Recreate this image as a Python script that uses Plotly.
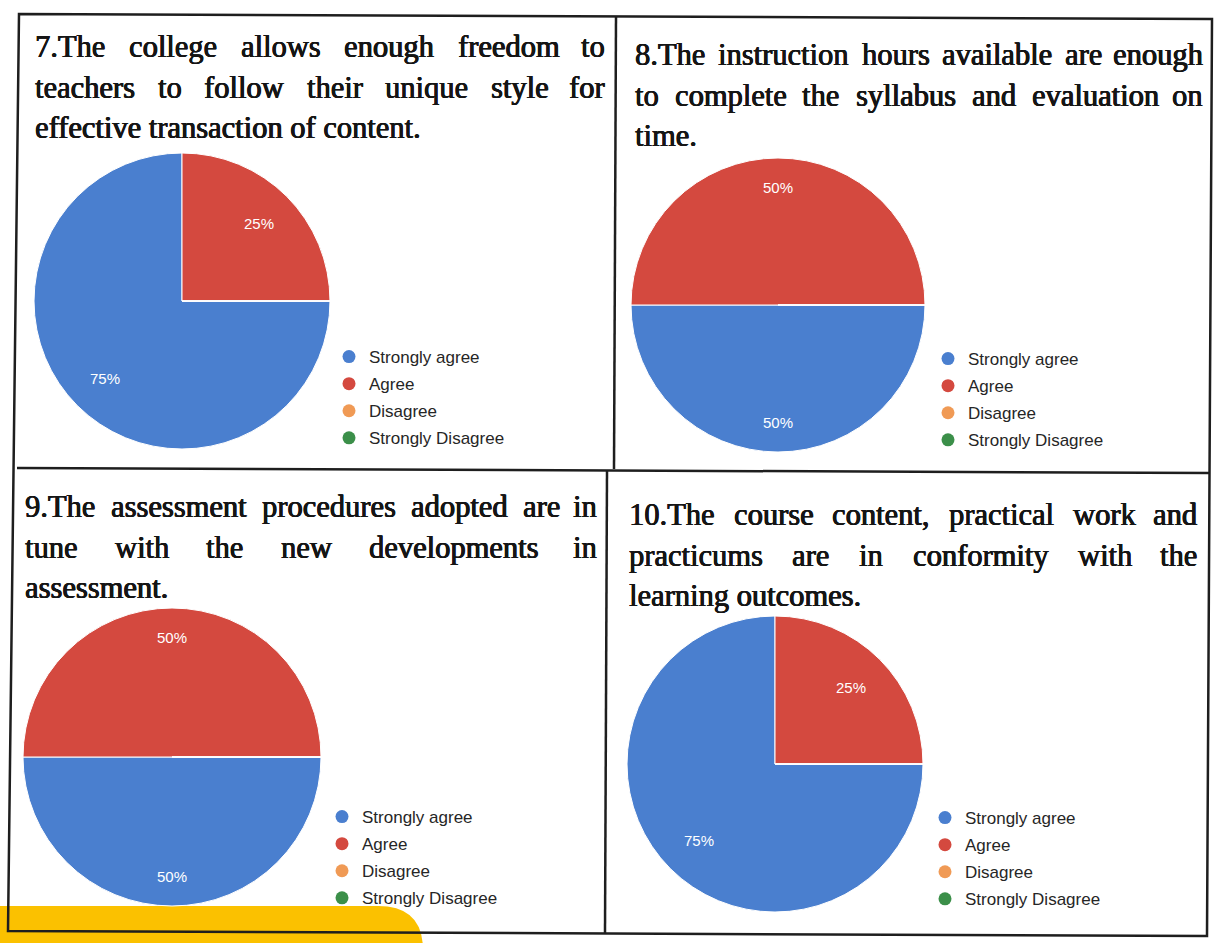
import math
import plotly.graph_objects as go

W, H = 1216, 943

categories = ["Strongly agree", "Agree", "Disagree", "Strongly Disagree"]
colors = ["#4a7fcf", "#d4493f", "#f09a55", "#3b8f49"]

q7_values = [75, 25, 0, 0]
q8_values = [50, 50, 0, 0]
q9_values = [50, 50, 0, 0]
q10_values = [75, 25, 0, 0]

q7_title = ["7.The college allows enough freedom to",
            "teachers to follow their unique style for",
            "effective transaction of content."]
q8_title = ["8.The instruction hours available are enough",
            "to complete the syllabus and evaluation on",
            "time."]
q9_title = ["9.The assessment procedures adopted are in",
            "tune with the new developments in",
            "assessment."]
q10_title = ["10.The course content, practical work and",
             "practicums are in conformity with the",
             "learning outcomes."]

# Times / Liberation Serif advance widths (per 1000 em) for justification
TIMES = {' ': 250, '.': 250, ',': 250, 'T': 611}
TIMES.update({d: 500 for d in '0123456789'})
TIMES.update(dict(zip('abcdefghijklmnopqrstuvwxyz',
                      [444, 500, 444, 500, 444, 333, 500, 500, 278, 278, 500, 278, 778,
                       500, 500, 500, 500, 333, 389, 278, 500, 500, 722, 500, 500, 444])))

TITLE_SIZE = 30.5
SERIF = "Liberation Serif, Times New Roman, serif"
SANS = "Arial, Liberation Sans, sans-serif"
INK = "#151515"


def text_width(s, size):
    return sum(TIMES.get(c, 500) for c in s) / 1000.0 * size


panels = [
    dict(values=q7_values, title=q7_title, tx=(34, 606), ty=47, pie=(182, 301, 148),
         label_r=0.74, legend="legend", lg=(329, 339)),
    dict(values=q8_values, title=q8_title, tx=(634, 1204), ty=55, pie=(778, 305, 147),
         label_r=0.80, legend="legend2", lg=(928, 341)),
    dict(values=q9_values, title=q9_title, tx=(24, 598), ty=507, pie=(172, 757, 149),
         label_r=0.80, legend="legend3", lg=(322, 799)),
    dict(values=q10_values, title=q10_title, tx=(628, 1198), ty=515, pie=(775, 764, 148),
         label_r=0.73, legend="legend4", lg=(925, 800)),
]
LINE_STEP = 40.5

fig = go.Figure()
annotations = []
legends = {}

for p in panels:
    cx, cy, r = p["pie"]
    vals = p["values"]
    total = float(sum(vals))
    fig.add_trace(go.Pie(
        labels=categories, values=vals, sort=False,
        direction="clockwise", rotation=90,
        marker=dict(colors=colors, line=dict(color="white", width=1)),
        textinfo="none",
        hovertemplate="%{label}: %{percent:.0%}<extra></extra>",
        showlegend=False,
        domain=dict(x=[(cx - r) / W, (cx + r) / W], y=[1 - (cy + r) / H, 1 - (cy - r) / H]),
    ))
    # percentage labels placed on each slice's bisector (clockwise from 3 o'clock)
    cum = 0.0
    for v in vals:
        if v > 0:
            theta = 2 * math.pi * (cum + v / 2.0) / total
            rho = p["label_r"] * r
            annotations.append(dict(
                text=f"{round(100 * v / total)}%", x=cx + rho * math.cos(theta),
                y=cy + rho * math.sin(theta), xanchor="center", yanchor="middle",
                xref="x", yref="y", showarrow=False, borderpad=0,
                font=dict(family=SANS, size=15, color="white")))
        cum += v
    for i, cat in enumerate(categories):
        fig.add_trace(go.Scatter(
            x=[None], y=[None], mode="markers", name=cat,
            marker=dict(size=13, color=colors[i]),
            legend=p["legend"], legendgroup=f"{p['legend']}-{i}",
            showlegend=True, hoverinfo="skip",
        ))
    lx, ly = p["lg"]
    legends[p["legend"]] = dict(
        x=lx / W, y=1 - ly / H, xanchor="left", yanchor="top",
        font=dict(family=SANS, size=17, color="#262626"),
        traceorder="grouped", tracegroupgap=2,
        bgcolor="rgba(0,0,0,0)", borderwidth=0, itemclick=False, itemdoubleclick=False,
    )
    # justified title text
    x0, x1 = p["tx"]
    lines = p["title"]
    tfont = dict(family=SERIF, size=TITLE_SIZE, color=INK,
                 shadow=f"0.6px 0 0 {INK}, -0.3px 0 0 {INK}, 0 0.3px 0 {INK}")
    for li, line in enumerate(lines):
        y = p["ty"] + li * LINE_STEP
        words = line.split(" ")
        common = dict(xref="x", yref="y", yanchor="middle", showarrow=False,
                      borderpad=0, font=tfont)
        if li == len(lines) - 1:
            annotations.append(dict(text=line, x=x0, y=y, xanchor="left", **common))
            continue
        widths = [text_width(w, TITLE_SIZE) for w in words]
        gap = (x1 - x0 - sum(widths)) / (len(words) - 1)
        xpos = x0
        for wi, (w, wd) in enumerate(zip(words, widths)):
            if wi == len(words) - 1:
                annotations.append(dict(text=w, x=x1, y=y, xanchor="right", **common))
            else:
                annotations.append(dict(text=w, x=xpos, y=y, xanchor="left", **common))
            xpos += wd + gap

line_style = dict(color="#1e1e1e", width=2.5)
shapes = [
    dict(type="path", xref="x", yref="y", layer="below",
         path="M 0,950 L 0,906 L 378,906 Q 423,906 423,950 Z",
         fillcolor="#fbc100", line=dict(width=0)),
    dict(type="path", xref="x", yref="y", layer="above",
         path="M 19,14 L 1212,19 L 1207,936 L 8,931 Z",
         line=line_style, fillcolor="rgba(0,0,0,0)"),
    dict(type="line", xref="x", yref="y", x0=17, y0=468, x1=1210, y1=473, line=line_style),
    dict(type="line", xref="x", yref="y", x0=616, y0=16, x1=614, y1=469, line=line_style),
    dict(type="line", xref="x", yref="y", x0=607, y0=471, x1=605, y1=933, line=line_style),
]

layout = dict(
    width=W, height=H, margin=dict(l=0, r=0, t=0, b=0),
    paper_bgcolor="white", plot_bgcolor="white",
    xaxis=dict(range=[0, W], visible=False, domain=[0, 1], fixedrange=True),
    yaxis=dict(range=[H, 0], visible=False, domain=[0, 1], fixedrange=True),
    annotations=annotations, shapes=shapes,
)
layout.update(legends)
fig.update_layout(**layout)

fig.write_html("out.html", config={"displayModeBar": False},
               post_script="document.body.style.margin='0';document.body.style.overflow='hidden';")
